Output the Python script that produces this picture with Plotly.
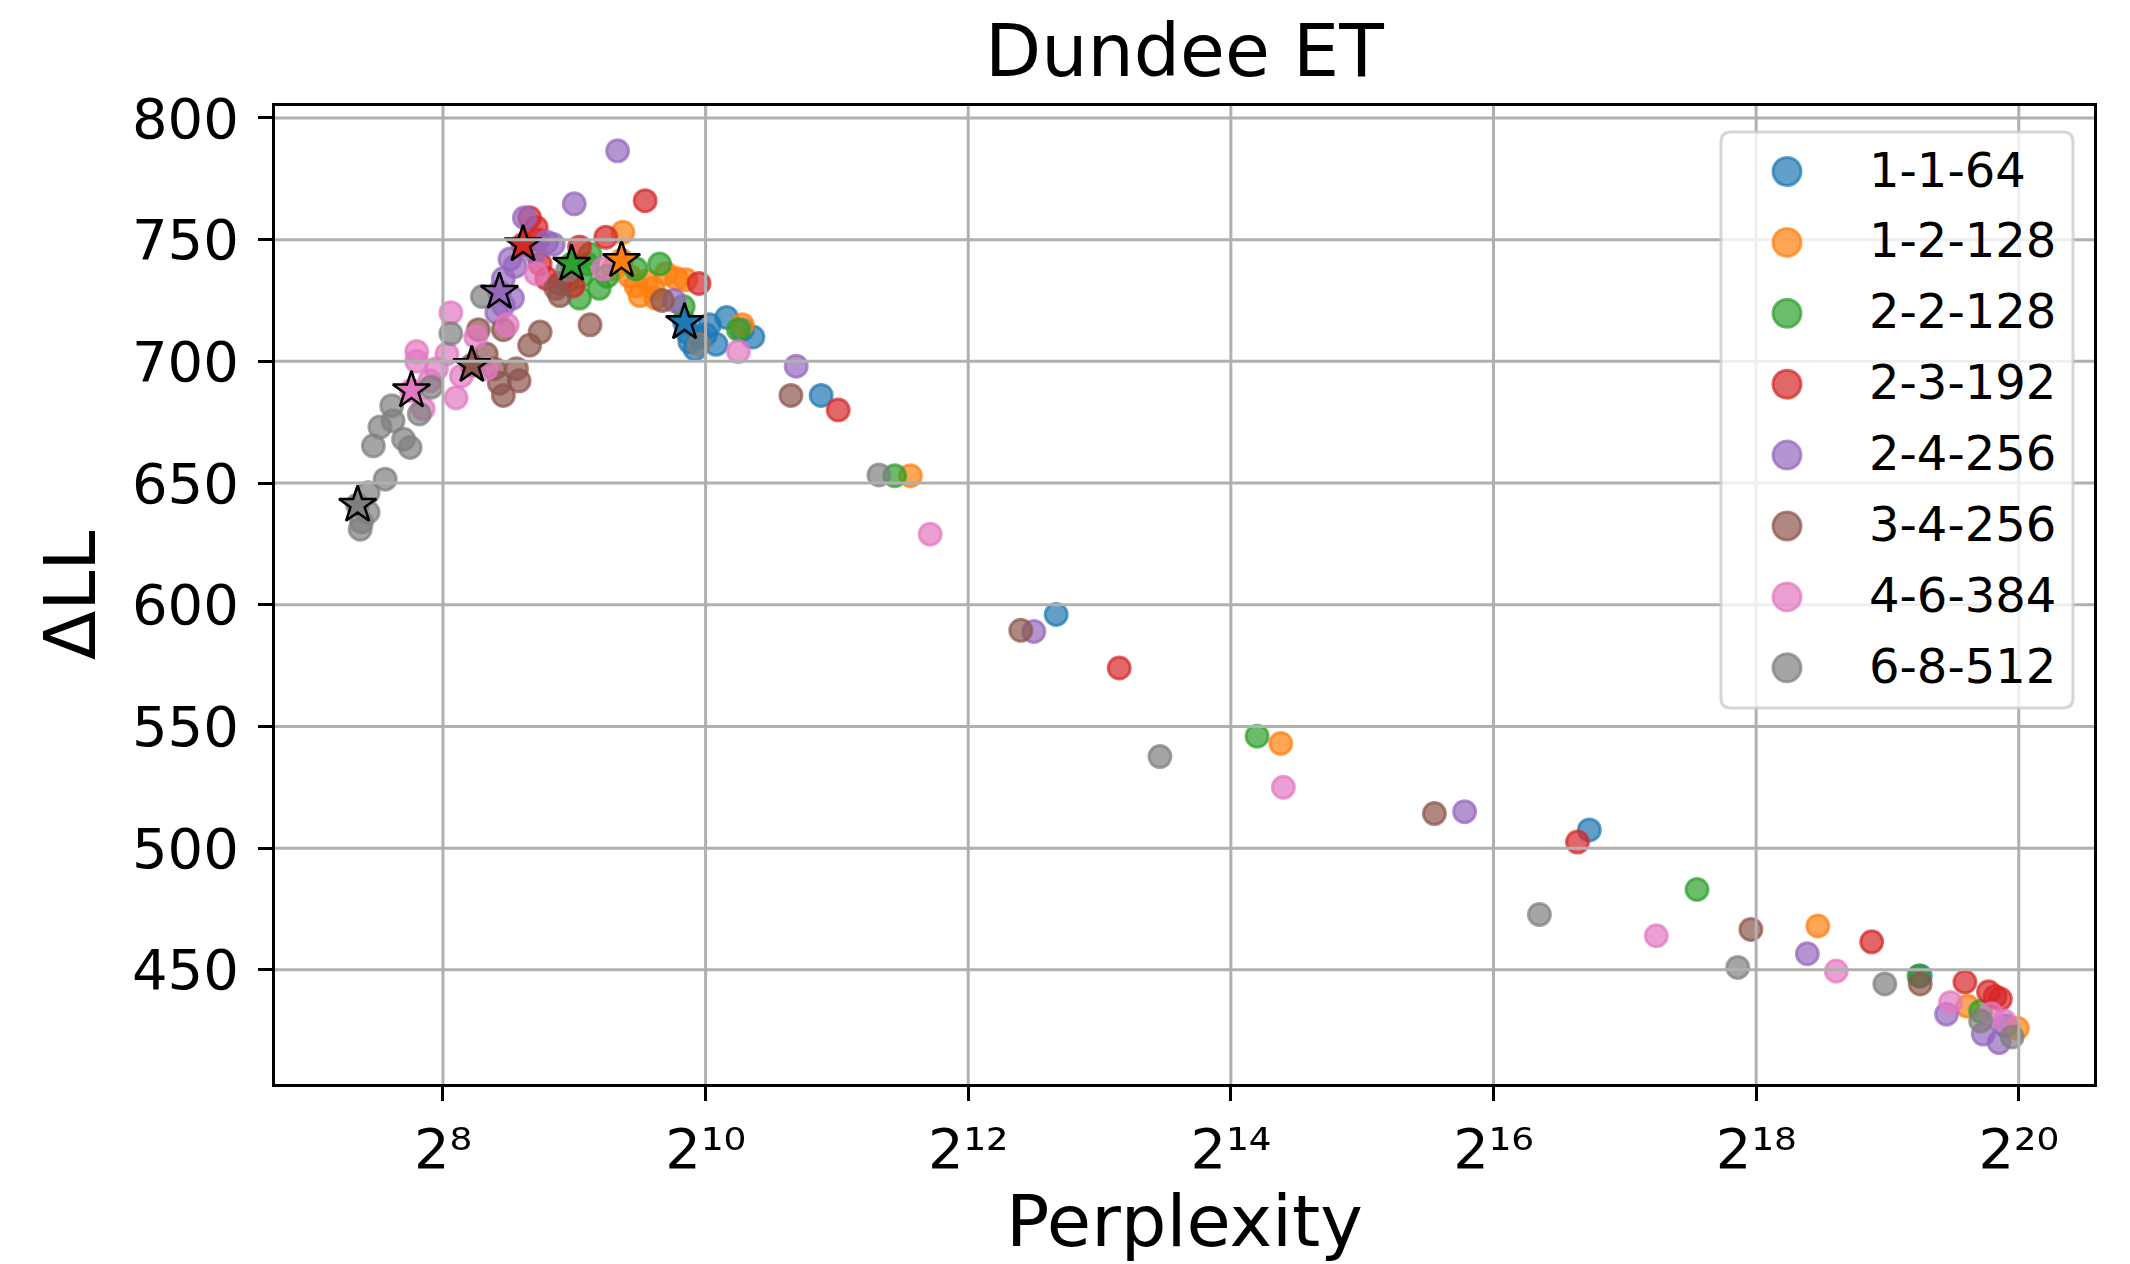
import numpy as np
import plotly.graph_objects as go

# ---------------------------------------------------------------- data
title_text = "Dundee ET"
x_label = "Perplexity"
y_label = "ΔLL"

models = ["1-1-64", "1-2-128", "2-2-128", "2-3-192",
          "2-4-256", "3-4-256", "4-6-384", "6-8-512"]
colors = ["#1f77b4", "#ff7f0e", "#2ca02c", "#d62728",
          "#9467bd", "#8c564b", "#e377c2", "#7f7f7f"]

# log2(perplexity) and ΔLL for every checkpoint of each configuration
log2_ppl_1_1_64 = [9.84, 9.86, 9.88, 9.92, 9.95, 10.00, 10.03, 10.08, 10.16, 10.28, 10.36,
                   10.88, 12.67, 16.73, 19.25, 19.90]
dll_1_1_64 = [716, 712, 708, 705, 710, 711, 715, 707, 718, 713, 710,
              686, 596, 507.5, 447.5, 427]

log2_ppl_1_2_128 = [9.36, 9.37, 9.30, 9.42, 9.47, 9.50, 9.55, 9.60, 9.62, 9.70, 9.78, 9.85,
                    10.28, 11.56, 14.38, 18.47, 19.61, 19.99]
dll_1_2_128 = [741.5, 753, 738, 735, 731, 727, 733, 730, 726, 736, 734, 733.5,
               715, 653, 543, 468, 435, 426]

log2_ppl_2_2_128 = [8.98, 8.95, 9.05, 9.04, 9.10, 9.12, 9.19, 9.25, 9.47, 9.65, 9.83,
                    10.25, 11.44, 14.20, 17.55, 19.24, 19.71]
dll_2_2_128 = [740, 733, 735, 726, 740, 744, 730, 735, 738, 740, 722.5,
               713, 653, 546, 483, 447.5, 433]

log2_ppl_2_3_192 = [8.61, 8.66, 8.71, 8.72, 8.74, 8.79, 8.89, 8.99, 9.04, 9.24, 9.54, 9.95,
                    11.01, 13.15, 16.64, 18.88, 19.59, 19.77, 19.82, 19.86]
dll_2_3_192 = [748, 759, 755, 750, 740, 734, 732, 731, 747, 751, 766, 732,
               680, 574, 502.5, 461.5, 445, 441, 439, 438]

log2_ppl_2_4_256 = [8.43, 8.41, 8.46, 8.46, 8.51, 8.53, 8.55, 8.62, 8.70, 8.79, 8.84, 9.00,
                    9.33, 9.76, 10.69, 12.50, 15.78, 18.39, 19.45, 19.73, 19.85]
dll_2_4_256 = [728.5, 720, 734, 723, 742, 726, 739, 759, 745, 749, 748, 764.7,
               786.5, 725, 698, 589, 515, 456.6, 431.8, 423.6, 420.1]

log2_ppl_3_4_256 = [8.22, 8.27, 8.33, 8.39, 8.43, 8.46, 8.46, 8.56, 8.58, 8.66, 8.74, 8.86,
                    8.89, 9.12, 9.67, 10.65, 12.40, 15.55, 17.96, 19.25]
dll_3_4_256 = [698.4, 713, 703, 697, 691, 713, 686, 697, 692, 706.6, 712, 730,
               727, 715, 725, 686, 589.5, 514.2, 466.6, 444.2]

log2_ppl_4_6_384 = [7.76, 7.80, 7.80, 7.85, 7.90, 7.95, 8.03, 8.06, 8.10, 8.14, 8.25, 8.33,
                    8.49, 8.71, 9.22, 10.25, 11.71, 14.40, 17.24, 18.61, 19.48, 19.79, 19.89]
dll_4_6_384 = [688, 704, 700, 680.5, 692, 697, 703, 720, 685, 694, 710, 697,
               715, 736, 738, 704, 629, 525, 464, 449.5, 436.6, 432, 429]

log2_ppl_6_8_512 = [7.35, 7.37, 7.38, 7.43, 7.43, 7.47, 7.52, 7.56, 7.61, 7.62, 7.70, 7.75,
                    7.82, 7.91, 8.06, 8.30, 8.95, 9.95, 11.32, 13.46, 16.35, 17.86, 18.98,
                    19.71, 19.95]
dll_6_8_512 = [641, 631, 634, 646, 638, 665.3, 673, 651.6, 681.8, 675.6, 668, 664.6,
               678.4, 689.4, 711.4, 726.6, 737.6, 707, 653.3, 537.6, 472.7, 451, 444.2,
               429, 422.4]

# highlighted checkpoint of each configuration (drawn as a star)
star_log2_ppl = [9.84, 9.36, 8.98, 8.61, 8.43, 8.22, 7.76, 7.35]
star_dll = [716, 741.5, 740, 748, 728.5, 698.4, 688, 641]

x_tick_exps = [8, 10, 12, 14, 16, 18, 20]
x_tick_labels = ["2⁸", "2¹⁰", "2¹²", "2¹⁴", "2¹⁶", "2¹⁸", "2²⁰"]
y_ticks = [450, 500, 550, 600, 650, 700, 750, 800]

series_x = [log2_ppl_1_1_64, log2_ppl_1_2_128, log2_ppl_2_2_128, log2_ppl_2_3_192,
            log2_ppl_2_4_256, log2_ppl_3_4_256, log2_ppl_4_6_384, log2_ppl_6_8_512]
series_y = [dll_1_1_64, dll_1_2_128, dll_2_2_128, dll_2_3_192,
            dll_2_4_256, dll_3_4_256, dll_4_6_384, dll_6_8_512]

# ---------------------------------------------------------------- layout geometry
W, H = 2130, 1264
ML, MR, MT, MB = 275, 36, 106, 180
PW, PH = W - ML - MR, H - MT - MB
FONT = "DejaVu Sans"
LOG2 = np.log10(2.0)
x_range_log2 = [6.721, 20.573]
y_range = [403.1, 804.9]


def rgba(hex_color, a):
    h = hex_color.lstrip("#")
    r, g, b = int(h[0:2], 16), int(h[2:4], 16), int(h[4:6], 16)
    return f"rgba({r},{g},{b},{a})"


def px_x(px):
    return (px - ML) / PW


def px_y(py):
    return (H - MB - py) / PH


fig = go.Figure()

for name, col, xs, ys in zip(models, colors, series_x, series_y):
    fig.add_trace(go.Scatter(
        x=np.exp2(xs), y=ys, mode="markers", name=name, showlegend=False,
        marker=dict(size=22, color=rgba(col, 0.7),
                    line=dict(color=rgba(col, 0.7), width=3)),
    ))

fig.add_trace(go.Scatter(
    x=np.exp2(star_log2_ppl), y=star_dll, mode="markers", showlegend=False,
    marker=dict(symbol="star", size=28, color=colors,
                line=dict(color="black", width=2.5)),
))

shapes = []
# grid lines drawn over the markers
for e in x_tick_exps:
    fx = (e - x_range_log2[0]) / (x_range_log2[1] - x_range_log2[0])
    shapes.append(dict(type="line", xref="paper", yref="paper", x0=fx, x1=fx,
                       y0=0, y1=1, line=dict(color="#b0b0b0", width=3), layer="above"))
for v in y_ticks:
    shapes.append(dict(type="line", xref="paper", yref="y", x0=0, x1=1, y0=v, y1=v,
                       line=dict(color="#b0b0b0", width=3), layer="above"))

# legend frame (rounded box)
lx0, lx1, ly0, ly1, rad = 1721, 2073, 132, 708, 10
path = (f"M {px_x(lx0 + rad)},{px_y(ly0)} L {px_x(lx1 - rad)},{px_y(ly0)} "
        f"Q {px_x(lx1)},{px_y(ly0)} {px_x(lx1)},{px_y(ly0 + rad)} "
        f"L {px_x(lx1)},{px_y(ly1 - rad)} "
        f"Q {px_x(lx1)},{px_y(ly1)} {px_x(lx1 - rad)},{px_y(ly1)} "
        f"L {px_x(lx0 + rad)},{px_y(ly1)} "
        f"Q {px_x(lx0)},{px_y(ly1)} {px_x(lx0)},{px_y(ly1 - rad)} "
        f"L {px_x(lx0)},{px_y(ly0 + rad)} "
        f"Q {px_x(lx0)},{px_y(ly0)} {px_x(lx0 + rad)},{px_y(ly0)} Z")
shapes.append(dict(type="path", xref="paper", yref="paper", path=path,
                   fillcolor="rgba(255,255,255,0.8)",
                   line=dict(color="rgba(204,204,204,0.8)", width=3), layer="above"))

annotations = []
row0, row_step, mark_cx, mark_r, text_x = 171.5, 70.9, 1787, 14, 1867
for i, (name, col) in enumerate(zip(models, colors)):
    cy = row0 + i * row_step
    shapes.append(dict(type="circle", xref="paper", yref="paper",
                       x0=px_x(mark_cx - mark_r), x1=px_x(mark_cx + mark_r),
                       y0=px_y(cy + mark_r), y1=px_y(cy - mark_r),
                       fillcolor=rgba(col, 0.7),
                       line=dict(color=rgba(col, 0.7), width=3), layer="above"))
    annotations.append(dict(text=name, xref="paper", yref="paper",
                            x=px_x(text_x), y=px_y(cy - 2), xanchor="left", yanchor="middle",
                            showarrow=False, font=dict(family=FONT, size=48, color="black")))

annotations.append(dict(text=title_text, xref="paper", yref="paper", x=0.5, y=px_y(51),
                        xanchor="center", yanchor="middle", showarrow=False,
                        font=dict(family=FONT, size=73, color="black")))
annotations.append(dict(text=x_label, xref="paper", yref="paper", x=0.5, y=px_y(1221),
                        xanchor="center", yanchor="middle", showarrow=False,
                        font=dict(family=FONT, size=72, color="black")))
annotations.append(dict(text=y_label, xref="paper", yref="paper", x=px_x(70), y=px_y(596),
                        xanchor="center", yanchor="middle", showarrow=False, textangle=-90,
                        font=dict(family=FONT, size=72, color="black")))

axis_common = dict(showgrid=False, zeroline=False, showline=True, linecolor="black",
                   linewidth=3, mirror=True, ticks="outside", ticklen=14, tickwidth=3,
                   tickcolor="black", tickfont=dict(family=FONT, size=56, color="black"))

fig.update_layout(
    width=W, height=H,
    margin=dict(l=ML, r=MR, t=MT, b=MB),
    paper_bgcolor="white", plot_bgcolor="white",
    showlegend=False,
    xaxis=dict(type="log", range=[x_range_log2[0] * LOG2, x_range_log2[1] * LOG2],
               tickvals=[2.0 ** e for e in x_tick_exps],
               ticktext=x_tick_labels, **axis_common),
    yaxis=dict(range=y_range, tickvals=y_ticks, ticklabelstandoff=8,
               ticktext=[str(v) for v in y_ticks], **axis_common),
    shapes=shapes,
    annotations=annotations,
)

fig.write_html("out.html")
